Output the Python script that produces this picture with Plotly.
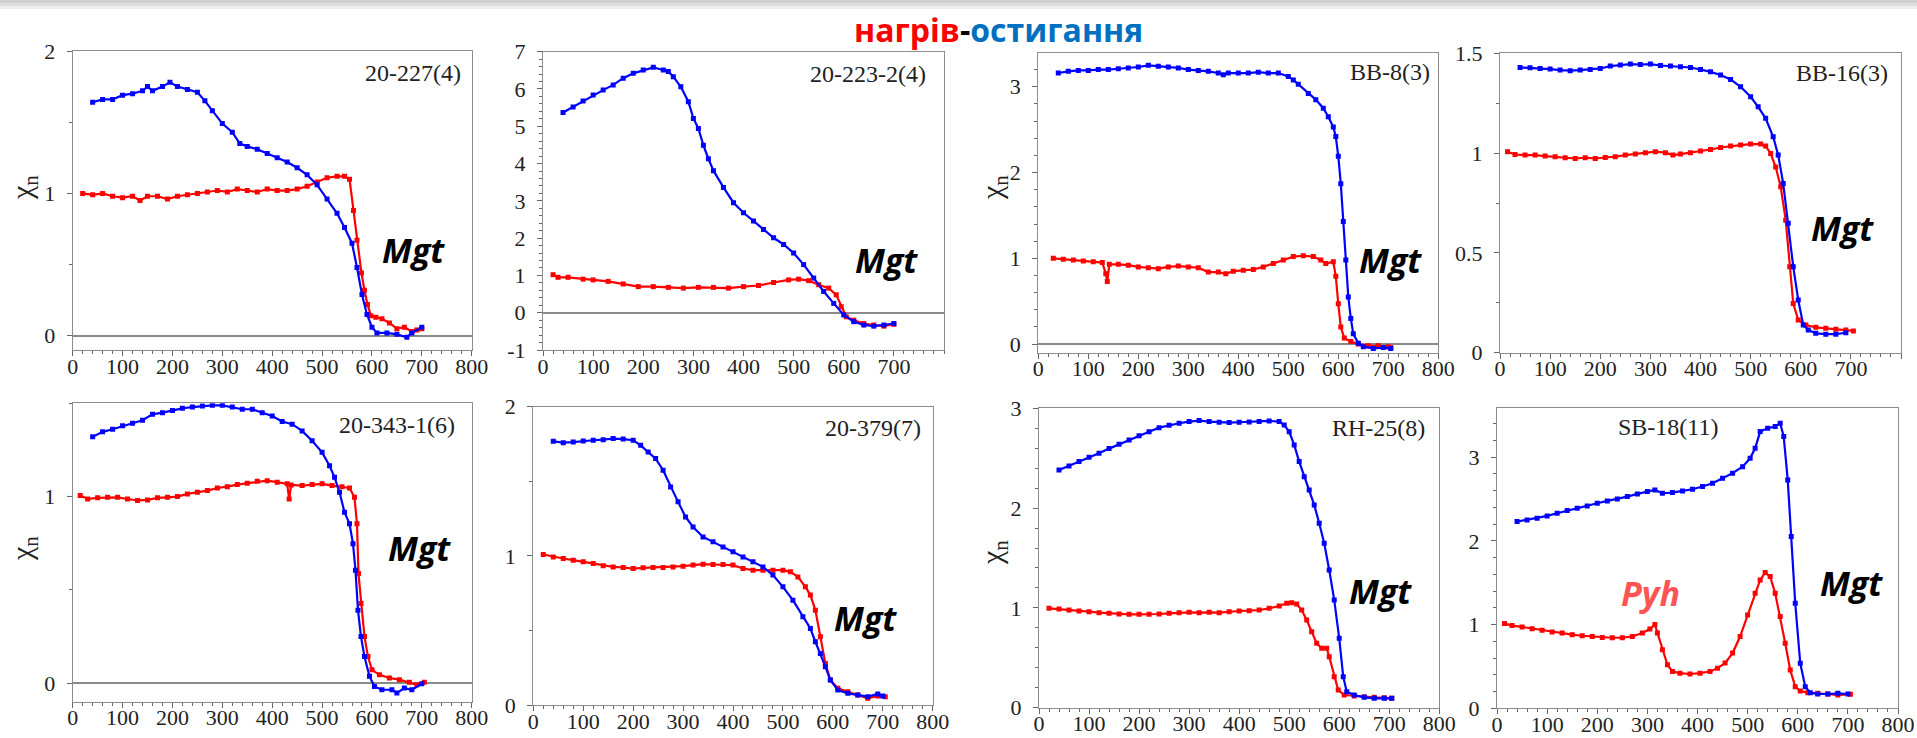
import plotly.graph_objects as go

W, H = 1917, 738

# ---------------- data: temperature (°C) and normalised susceptibility ----------------
# 20-227(4)
T_227_heat = [20, 40, 60, 80, 100, 120, 135, 150, 170, 190, 210, 230, 250, 270, 290, 310, 330, 350, 370, 390, 410, 430, 450, 470, 490, 510, 530, 545, 555, 563, 570, 579, 585, 591, 598, 608, 620, 635, 650, 665, 680, 690, 700]
X_227_heat = [1.00, 0.99, 1.00, 0.98, 0.97, 0.98, 0.95, 0.98, 0.98, 0.96, 0.98, 0.99, 1.00, 1.01, 1.02, 1.01, 1.03, 1.02, 1.01, 1.03, 1.02, 1.02, 1.03, 1.05, 1.08, 1.11, 1.12, 1.12, 1.10, 0.88, 0.67, 0.44, 0.32, 0.22, 0.14, 0.13, 0.12, 0.09, 0.05, 0.06, 0.03, 0.04, 0.05]
T_227_cool = [40, 60, 80, 100, 120, 140, 150, 160, 180, 195, 210, 230, 250, 265, 280, 300, 320, 335, 350, 370, 390, 410, 430, 450, 470, 490, 510, 530, 545, 560, 570, 580, 590, 600, 610, 630, 650, 670, 680, 700]
X_227_cool = [1.64, 1.66, 1.66, 1.69, 1.70, 1.72, 1.75, 1.72, 1.75, 1.78, 1.75, 1.73, 1.71, 1.65, 1.58, 1.49, 1.43, 1.35, 1.33, 1.31, 1.28, 1.25, 1.22, 1.18, 1.13, 1.06, 0.96, 0.86, 0.76, 0.65, 0.48, 0.29, 0.15, 0.06, 0.02, 0.02, 0.01, -0.01, 0.02, 0.06]

# 20-223-2(4)
T_223_heat = [20, 30, 50, 80, 100, 130, 160, 190, 220, 250, 280, 310, 340, 370, 400, 430, 460, 490, 510, 530, 550, 570, 585, 595, 605, 620, 640, 660, 680, 700]
X_223_heat = [1.02, 0.95, 0.95, 0.90, 0.88, 0.84, 0.77, 0.70, 0.70, 0.68, 0.66, 0.68, 0.68, 0.66, 0.70, 0.73, 0.81, 0.88, 0.90, 0.86, 0.75, 0.66, 0.48, 0.16, -0.11, -0.20, -0.29, -0.33, -0.36, -0.31]
T_223_cool = [40, 60, 80, 100, 120, 140, 160, 180, 200, 220, 240, 250, 260, 275, 290, 300, 310, 320, 330, 340, 360, 380, 400, 420, 440, 460, 480, 500, 520, 540, 560, 580, 600, 620, 640, 660, 680, 700]
X_223_cool = [5.37, 5.52, 5.68, 5.84, 5.97, 6.11, 6.29, 6.42, 6.51, 6.58, 6.51, 6.47, 6.33, 6.06, 5.66, 5.21, 4.94, 4.49, 4.13, 3.81, 3.36, 2.95, 2.68, 2.46, 2.23, 2.01, 1.83, 1.60, 1.29, 0.93, 0.57, 0.25, -0.06, -0.24, -0.33, -0.36, -0.33, -0.29]

# BB-8(3)
T_bb8_heat = [30, 50, 70, 90, 110, 128, 135, 138, 142, 160, 180, 200, 220, 240, 260, 280, 300, 320, 340, 360, 375, 390, 410, 430, 450, 470, 490, 510, 530, 550, 565, 575, 590, 595, 600, 605, 612, 625, 640, 660, 680, 700, 705]
X_bb8_heat = [1.00, 0.99, 0.98, 0.97, 0.96, 0.95, 0.82, 0.73, 0.93, 0.93, 0.92, 0.90, 0.89, 0.88, 0.90, 0.91, 0.90, 0.89, 0.84, 0.84, 0.82, 0.85, 0.86, 0.87, 0.90, 0.94, 0.98, 1.02, 1.03, 1.02, 0.98, 0.94, 0.96, 0.79, 0.47, 0.20, 0.07, 0.03, 0.00, -0.02, -0.02, -0.03, -0.04]
T_bb8_cool = [40, 60, 80, 100, 120, 140, 160, 180, 200, 220, 240, 260, 280, 300, 320, 340, 360, 370, 380, 400, 420, 440, 460, 480, 500, 510, 520, 540, 555, 570, 580, 590, 595, 600, 605, 610, 615, 620, 625, 630, 640, 650, 670, 690, 705]
X_bb8_cool = [3.16, 3.18, 3.19, 3.19, 3.20, 3.20, 3.21, 3.22, 3.23, 3.25, 3.24, 3.23, 3.22, 3.20, 3.19, 3.18, 3.16, 3.14, 3.16, 3.16, 3.16, 3.17, 3.16, 3.16, 3.12, 3.08, 3.03, 2.92, 2.85, 2.75, 2.65, 2.53, 2.42, 2.19, 1.87, 1.43, 0.98, 0.55, 0.30, 0.12, 0.01, -0.03, -0.05, -0.04, -0.05]

# BB-16(3)
T_bb16_heat = [15, 30, 50, 70, 90, 110, 130, 150, 170, 190, 210, 230, 250, 270, 290, 310, 330, 345, 360, 380, 400, 420, 440, 460, 480, 500, 520, 530, 540, 550, 560, 570, 578, 585, 595, 610, 630, 650, 670, 690, 705]
X_bb16_heat = [1.007, 0.993, 0.990, 0.990, 0.985, 0.982, 0.977, 0.973, 0.977, 0.973, 0.978, 0.982, 0.990, 0.995, 1.002, 1.007, 1.002, 0.990, 0.995, 1.002, 1.010, 1.018, 1.028, 1.035, 1.040, 1.045, 1.045, 1.035, 0.998, 0.930, 0.831, 0.664, 0.431, 0.247, 0.164, 0.139, 0.127, 0.122, 0.117, 0.114, 0.109]
T_bb16_cool = [40, 60, 80, 100, 120, 140, 160, 180, 200, 220, 240, 260, 280, 300, 320, 340, 360, 380, 400, 420, 440, 460, 480, 500, 515, 530, 545, 555, 565, 575, 585, 595, 605, 615, 630, 650, 670, 690]
X_bb16_cool = [1.429, 1.427, 1.424, 1.421, 1.416, 1.413, 1.416, 1.419, 1.424, 1.436, 1.441, 1.446, 1.444, 1.446, 1.439, 1.436, 1.432, 1.429, 1.419, 1.407, 1.391, 1.369, 1.332, 1.282, 1.232, 1.174, 1.082, 0.990, 0.848, 0.648, 0.431, 0.264, 0.139, 0.114, 0.097, 0.093, 0.093, 0.100]

# 20-343-1(6)
T_343_heat = [15, 30, 50, 70, 90, 110, 130, 150, 170, 190, 210, 230, 250, 270, 290, 310, 330, 350, 370, 390, 410, 430, 434, 438, 460, 480, 500, 520, 540, 555, 565, 570, 573, 578, 585, 592, 600, 615, 635, 655, 675, 690, 705]
X_343_heat = [1.005, 0.987, 0.993, 0.996, 0.996, 0.987, 0.979, 0.982, 0.993, 0.996, 1.000, 1.014, 1.023, 1.032, 1.046, 1.053, 1.064, 1.071, 1.082, 1.085, 1.077, 1.068, 0.987, 1.062, 1.059, 1.064, 1.068, 1.059, 1.053, 1.046, 0.996, 0.854, 0.587, 0.427, 0.249, 0.142, 0.071, 0.044, 0.027, 0.018, 0.004, -0.009, 0.004]
T_343_cool = [40, 60, 80, 100, 120, 140, 160, 180, 200, 220, 240, 260, 280, 300, 320, 340, 360, 380, 400, 420, 440, 460, 480, 500, 515, 525, 535, 545, 555, 562, 567, 572, 578, 585, 595, 605, 620, 640, 650, 665, 680, 700]
X_343_cool = [1.320, 1.347, 1.361, 1.379, 1.393, 1.409, 1.441, 1.450, 1.462, 1.473, 1.480, 1.486, 1.489, 1.489, 1.480, 1.468, 1.468, 1.450, 1.432, 1.402, 1.388, 1.352, 1.299, 1.237, 1.165, 1.103, 1.023, 0.916, 0.854, 0.747, 0.605, 0.391, 0.249, 0.142, 0.036, -0.018, -0.036, -0.036, -0.053, -0.027, -0.036, -0.004]

# 20-379(7)
T_379_heat = [20, 40, 60, 80, 100, 120, 140, 160, 180, 200, 220, 240, 260, 280, 300, 320, 340, 360, 380, 400, 420, 440, 460, 480, 500, 515, 530, 545, 555, 565, 575, 585, 595, 610, 630, 650, 670, 690, 705]
X_379_heat = [1.009, 0.993, 0.982, 0.971, 0.960, 0.949, 0.933, 0.926, 0.922, 0.915, 0.920, 0.922, 0.922, 0.926, 0.931, 0.938, 0.944, 0.942, 0.942, 0.938, 0.915, 0.904, 0.904, 0.904, 0.904, 0.893, 0.859, 0.792, 0.737, 0.636, 0.458, 0.279, 0.167, 0.112, 0.089, 0.067, 0.045, 0.060, 0.056]
T_379_cool = [40, 60, 80, 100, 120, 140, 160, 180, 200, 215, 230, 245, 260, 275, 290, 305, 320, 340, 360, 380, 400, 420, 440, 460, 480, 500, 520, 540, 555, 565, 575, 585, 595, 610, 630, 650, 670, 690, 700]
X_379_cool = [1.768, 1.759, 1.763, 1.770, 1.775, 1.779, 1.786, 1.783, 1.775, 1.741, 1.696, 1.652, 1.574, 1.462, 1.362, 1.261, 1.194, 1.127, 1.094, 1.060, 1.027, 0.993, 0.960, 0.926, 0.871, 0.792, 0.703, 0.592, 0.513, 0.424, 0.346, 0.257, 0.167, 0.100, 0.078, 0.067, 0.056, 0.074, 0.060]

# RH-25(8)
T_rh25_heat = [20, 40, 60, 80, 100, 120, 140, 160, 180, 200, 220, 240, 260, 280, 300, 320, 340, 360, 380, 400, 420, 440, 460, 480, 495, 505, 515, 525, 535, 545, 555, 565, 575, 580, 590, 598, 610, 630, 650, 670, 690, 705]
X_rh25_heat = [0.996, 0.989, 0.979, 0.969, 0.962, 0.952, 0.946, 0.939, 0.936, 0.936, 0.936, 0.939, 0.946, 0.952, 0.956, 0.952, 0.956, 0.952, 0.962, 0.969, 0.972, 0.979, 0.996, 1.019, 1.046, 1.052, 1.039, 0.979, 0.879, 0.762, 0.645, 0.595, 0.595, 0.511, 0.311, 0.177, 0.127, 0.117, 0.110, 0.104, 0.100, 0.094]
T_rh25_cool = [40, 60, 80, 100, 120, 140, 160, 180, 200, 220, 240, 260, 280, 300, 320, 340, 360, 380, 400, 420, 440, 460, 480, 490, 500, 510, 520, 530, 540, 550, 560, 570, 580, 590, 600, 608, 615, 630, 650, 670, 690, 705]
X_rh25_cool = [2.382, 2.422, 2.466, 2.509, 2.549, 2.596, 2.640, 2.683, 2.726, 2.766, 2.806, 2.830, 2.850, 2.867, 2.877, 2.867, 2.860, 2.857, 2.860, 2.863, 2.867, 2.873, 2.867, 2.833, 2.766, 2.633, 2.466, 2.315, 2.182, 2.032, 1.848, 1.647, 1.380, 1.080, 0.695, 0.311, 0.160, 0.127, 0.104, 0.094, 0.094, 0.094]

# SB-18(11)
T_sb18_heat = [15, 30, 50, 70, 90, 110, 130, 150, 170, 190, 210, 230, 250, 270, 290, 305, 315, 320, 330, 340, 350, 365, 385, 405, 425, 440, 455, 470, 485, 500, 515, 525, 535, 545, 555, 565, 575, 585, 595, 605, 620, 640, 660, 680, 705]
X_sb18_heat = [1.012, 0.988, 0.972, 0.952, 0.932, 0.912, 0.900, 0.880, 0.867, 0.859, 0.847, 0.843, 0.843, 0.859, 0.900, 0.948, 1.000, 0.900, 0.700, 0.520, 0.440, 0.420, 0.410, 0.420, 0.440, 0.480, 0.540, 0.660, 0.857, 1.116, 1.375, 1.534, 1.622, 1.574, 1.375, 1.096, 0.777, 0.458, 0.259, 0.207, 0.187, 0.179, 0.171, 0.159, 0.167]
T_sb18_cool = [40, 60, 80, 100, 120, 140, 160, 180, 200, 220, 240, 260, 280, 300, 315, 330, 350, 370, 390, 410, 430, 450, 470, 490, 505, 515, 525, 540, 555, 565, 572, 580, 587, 595, 605, 615, 625, 640, 660, 680, 700]
X_sb18_cool = [2.231, 2.251, 2.271, 2.299, 2.331, 2.363, 2.390, 2.418, 2.450, 2.478, 2.502, 2.530, 2.562, 2.590, 2.610, 2.570, 2.578, 2.598, 2.618, 2.650, 2.690, 2.750, 2.810, 2.888, 2.988, 3.108, 3.307, 3.347, 3.367, 3.406, 3.247, 2.729, 2.052, 1.255, 0.538, 0.259, 0.187, 0.171, 0.171, 0.179, 0.171]

sample_names = ["20-227(4)", "20-223-2(4)", "BB-8(3)", "BB-16(3)",
                "20-343-1(6)", "20-379(7)", "RH-25(8)", "SB-18(11)"]
heat_T = [T_227_heat, T_223_heat, T_bb8_heat, T_bb16_heat, T_343_heat, T_379_heat, T_rh25_heat, T_sb18_heat]
heat_X = [X_227_heat, X_223_heat, X_bb8_heat, X_bb16_heat, X_343_heat, X_379_heat, X_rh25_heat, X_sb18_heat]
cool_T = [T_227_cool, T_223_cool, T_bb8_cool, T_bb16_cool, T_343_cool, T_379_cool, T_rh25_cool, T_sb18_cool]
cool_X = [X_227_cool, X_223_cool, X_bb8_cool, X_bb16_cool, X_343_cool, X_379_cool, X_rh25_cool, X_sb18_cool]

x_tick_vals = [0, 100, 200, 300, 400, 500, 600, 700, 800]

# ---------------- layout (pixel boxes of each panel) ----------------
panels = [
    dict(box=(72.7, 51, 471.7, 350), yr=[-0.1, 2], yt=[0, 1, 2], ytt=["0", "1", "2"], ym=0.5, xt=9),
    dict(box=(543, 51.7, 944, 350), yr=[-1, 7], yt=[-1, 0, 1, 2, 3, 4, 5, 6, 7], ytt=["-1", "0", "1", "2", "3", "4", "5", "6", "7"], ym=0.2, xt=8),
    dict(box=(1038.3, 53.3, 1438.3, 352.7), yr=[-0.1, 3.39], yt=[0, 1, 2, 3], ytt=["0", "1", "2", "3"], ym=0.2, xt=9),
    dict(box=(1500, 53.3, 1901, 352.7), yr=[0, 1.5], yt=[0, 0.5, 1, 1.5], ytt=["0", "0.5", "1", "1.5"], ym=0.25, xt=9),
    dict(box=(72.7, 403.3, 471.7, 701.7), yr=[-0.1, 1.5], yt=[0, 1], ytt=["0", "1"], ym=0.5, xt=9),
    dict(box=(533.3, 406.7, 932.7, 705), yr=[0, 2], yt=[0, 1, 2], ytt=["0", "1", "2"], ym=0.5, xt=9),
    dict(box=(1039, 408.3, 1439.3, 707.7), yr=[0, 3], yt=[0, 1, 2, 3], ytt=["0", "1", "2", "3"], ym=0.2, xt=9),
    dict(box=(1497, 408.3, 1898, 708.3), yr=[0, 3.585], yt=[0, 1, 2, 3], ytt=["0", "1", "2", "3"], ym=0.2, xt=9),
]

def fx(p):
    return p / W

def fy(p):
    return 1 - p / H

RED = "#ff0000"
BLUE = "#0000ff"
AX = "#8c8c8c"
TICKFONT = dict(family="Liberation Serif, Times New Roman, serif", size=22, color="#222222")

fig = go.Figure()
layout = dict(
    width=W, height=H, margin=dict(l=0, r=0, t=0, b=0, autoexpand=False),
    paper_bgcolor="white", plot_bgcolor="white", showlegend=False,
)

for i, p in enumerate(panels):
    n = i + 1
    xs = "" if n == 1 else str(n)
    x0, y0, x1, y1 = p["box"]
    layout["xaxis" + xs] = dict(
        domain=[fx(x0), fx(x1)], anchor="y" + xs, range=[0, 800], automargin=False,
        tickmode="array", tickvals=x_tick_vals[:p["xt"]], ticktext=[str(v) for v in x_tick_vals[:p["xt"]]],
        ticks="outside", ticklen=5, tickcolor="#666", tickwidth=1,
        minor=dict(dtick=20, tick0=0, ticks="outside", ticklen=3, tickcolor="#666"),
        showline=True, linecolor=AX, linewidth=1.2, mirror=True,
        showgrid=False, zeroline=False, tickfont=TICKFONT, ticklabelstandoff=-9,
    )
    layout["yaxis" + xs] = dict(
        domain=[fy(y1), fy(y0)], anchor="x" + xs, range=p["yr"], automargin=False,
        tickmode="array", tickvals=p["yt"], ticktext=p["ytt"],
        ticks="outside", ticklen=5, tickcolor="#666", tickwidth=1,
        minor=dict(dtick=p["ym"], tick0=0, ticks="outside", ticklen=3, tickcolor="#666"),
        showline=True, linecolor=AX, linewidth=1.2, mirror=True,
        showgrid=False, zeroline=True, zerolinecolor="#8a8a8a", zerolinewidth=1.5,
        tickfont=TICKFONT, ticklabelstandoff=7,
    )
    for T, X, col in ((heat_T[i], heat_X[i], RED), (cool_T[i], cool_X[i], BLUE)):
        fig.add_trace(go.Scatter(
            x=T, y=X, mode="lines+markers", xaxis="x" + xs, yaxis="y" + xs,
            line=dict(color=col, width=2.2), marker=dict(symbol="square", size=5, color=col),
            hoverinfo="x+y",
        ))

# annotations
ann = []
label_pos = [(463, 73, "right"), (928, 73.5, "right"), (1432, 72, "right"), (1890, 73, "right"),
             (457, 425, "right"), (923, 428, "right"), (1427, 428, "right"), (1668, 427, "center")]
for name, (lx, ly, anc) in zip(sample_names, label_pos):
    ann.append(dict(text=name, x=fx(lx), y=fy(ly), xref="paper", yref="paper", xanchor=anc,
                    yanchor="middle", showarrow=False,
                    font=dict(family="Liberation Serif, Times New Roman, serif", size=24, color="#222")))

mgt_pos = [(684, 0.63), (686, 1.53), (705, 1.03), (684, 0.645), (696, 0.744), (665, 0.61), (683, 1.21), (708, 1.545)]
for i, (mx, my) in enumerate(mgt_pos):
    xs = "" if i == 0 else str(i + 1)
    ann.append(dict(text="Mgt", x=mx, y=my, xref="x" + xs, yref="y" + xs, xanchor="center",
                    yanchor="middle", showarrow=False, yshift=-4,
                    font=dict(family="Open Sans, Noto Sans, sans-serif", size=34, color="black",
                              weight="bold", style="italic")))
ann.append(dict(text="Pyh", x=307, y=1.43, xref="x8", yref="y8", xanchor="center", yanchor="middle",
                showarrow=False, yshift=-4,
                font=dict(family="Open Sans, Noto Sans, sans-serif", size=34, color="#ff5454",
                          weight="bold", style="italic")))

for (cx, cy) in [(24, 188), (994, 188), (24, 549), (994, 553)]:
    ann.append(dict(text="χ<sub>n</sub>", x=fx(cx), y=fy(cy), xref="paper", yref="paper",
                    xanchor="center", yanchor="middle", textangle=-90, showarrow=False,
                    font=dict(family="Liberation Serif, Times New Roman, serif", size=30, color="#222")))

ann.append(dict(
    text='<span style="color:#ff0000">нагрів</span><span style="color:#000000">-</span><span style="color:#0070c0">остигання</span>',
    x=fx(998.5), y=fy(29), xref="paper", yref="paper", xanchor="center", yanchor="middle",
    showarrow=False, font=dict(family="Open Sans, Noto Sans, sans-serif", size=32, weight="bold")))

layout["annotations"] = ann
layout["shapes"] = [
    dict(type="rect", xref="paper", yref="paper", x0=0, x1=1, y0=fy(3), y1=1, fillcolor="#cfcfcf", line=dict(width=0), layer="below"),
    dict(type="rect", xref="paper", yref="paper", x0=0, x1=1, y0=fy(6), y1=fy(3), fillcolor="#dedede", line=dict(width=0), layer="below"),
    dict(type="rect", xref="paper", yref="paper", x0=0, x1=1, y0=fy(9), y1=fy(6), fillcolor="#eeeeee", line=dict(width=0), layer="below"),
]

fig.update_layout(**layout)
fig.write_html("out.html", config={"displayModeBar": False},
               post_script="document.body.style.margin='0';document.body.style.padding='0';document.body.style.overflow='hidden';")
